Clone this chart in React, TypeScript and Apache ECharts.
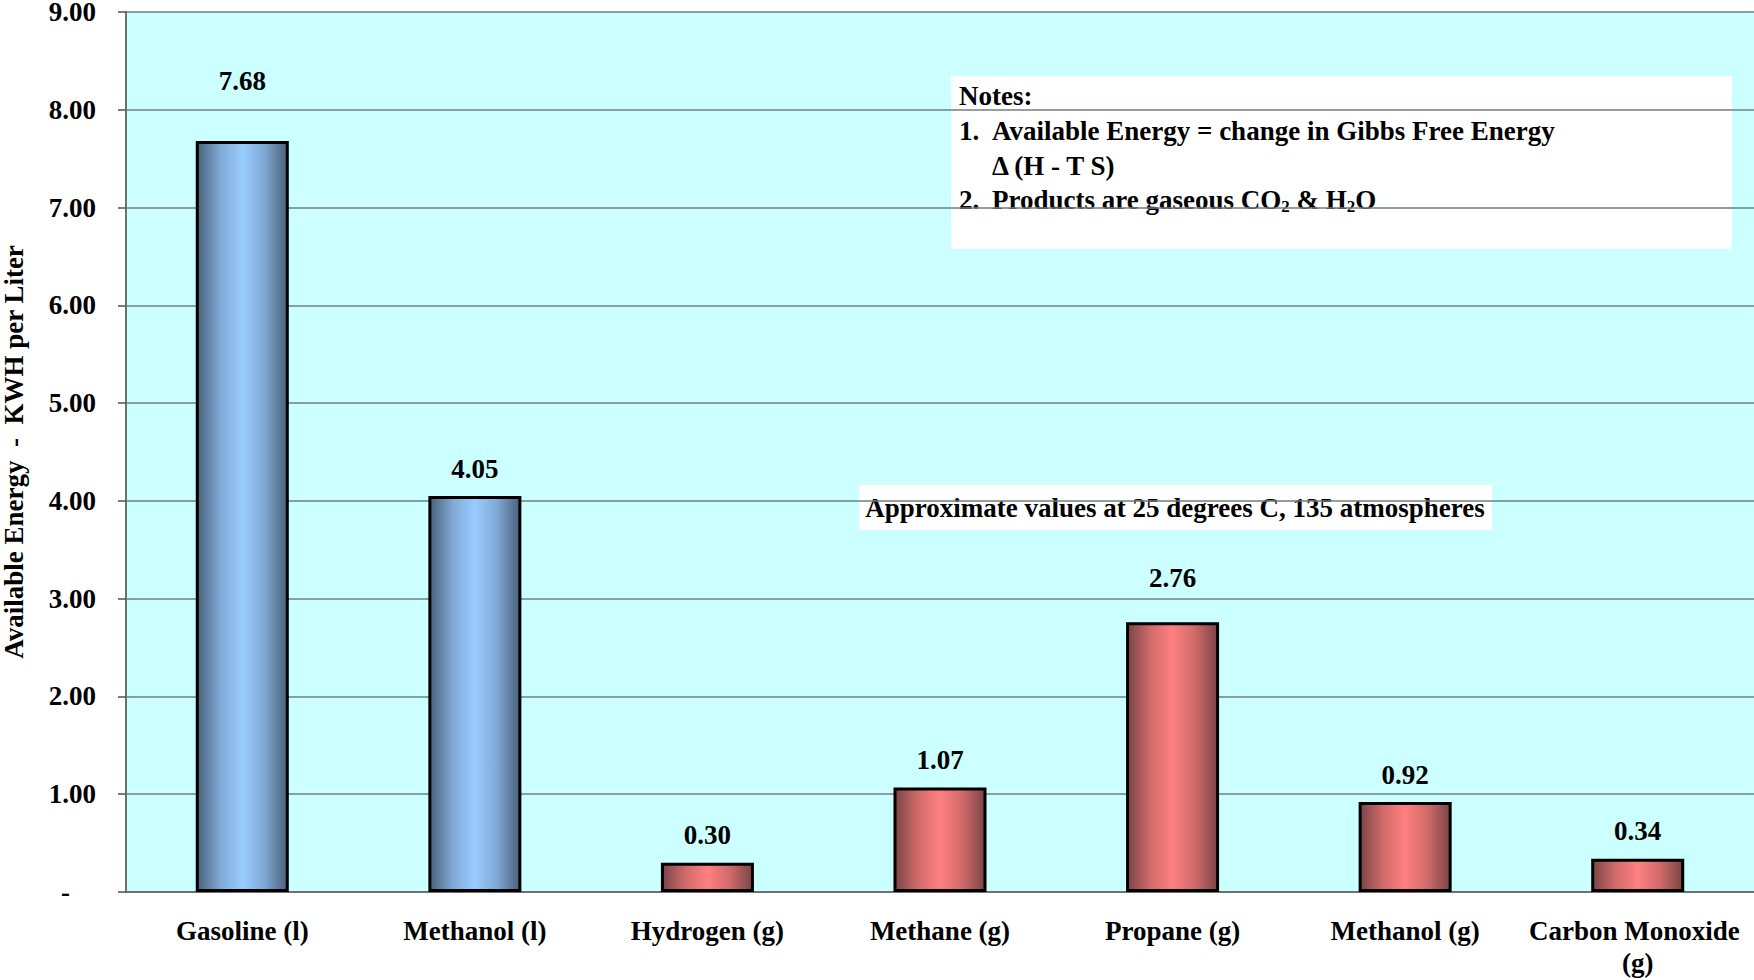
import { useEffect, useRef } from "react";
import * as echarts from "echarts";

// Available energy per litre of fuel (KWH)
const fuels = [
  "Gasoline (l)",
  "Methanol (l)",
  "Hydrogen (g)",
  "Methane (g)",
  "Propane (g)",
  "Methanol (g)",
  "Carbon Monoxide (g)",
];
const energyKwhPerLiter = [7.68, 4.05, 0.3, 1.07, 2.76, 0.92, 0.34];
const phase = ["liquid", "liquid", "gas", "gas", "gas", "gas", "gas"];

const yMin = 0;
const yMax = 9;
const yStep = 1;

const yAxisTitle = "Available Energy  -  KWH per Liter";
const conditionsNote = "Approximate values at 25 degrees C, 135 atmospheres";
const notesTitle = "Notes:";
const note1 = "Available Energy = change in Gibbs Free Energy";
const note1b = "\u0394 (H - T S)";

const FONT = '"Liberation Serif", "Times New Roman", serif';
const FS = 27;

const liquidFill = new echarts.graphic.LinearGradient(0, 0, 1, 0, [
  { offset: 0, color: "#4a6079" },
  { offset: 0.25, color: "#7fa8d4" },
  { offset: 0.5, color: "#99ccff" },
  { offset: 0.75, color: "#7fa8d4" },
  { offset: 1, color: "#4a6079" },
]);
const gasFill = new echarts.graphic.LinearGradient(0, 0, 1, 0, [
  { offset: 0, color: "#7a4545" },
  { offset: 0.25, color: "#d06a6a" },
  { offset: 0.5, color: "#ff8080" },
  { offset: 0.75, color: "#d06a6a" },
  { offset: 1, color: "#7a4545" },
]);

export default function App() {
  const ref = useRef<HTMLDivElement>(null);

  useEffect(() => {
    if (!ref.current) return;
    const chart = echarts.init(ref.current, undefined, { renderer: "svg" });

    const textBase = { fontFamily: FONT, fontWeight: "bold", fontSize: FS, fill: "#000" };

    chart.setOption({
      animation: false,
      backgroundColor: "#ffffff",
      grid: {
        left: 126,
        right: 0,
        top: 12,
        bottom: 88,
        outerBoundsMode: "none",
        containLabel: false,
        show: true,
        backgroundColor: "#ccffff",
        borderWidth: 0,
      },
      xAxis: {
        type: "category",
        data: fuels,
        axisLine: { lineStyle: { color: "#707070", width: 2 } },
        axisTick: { length: 9, lineStyle: { color: "#505050", width: 1.5 } },
        axisLabel: {
          interval: 0,
          margin: 23,
          width: 228,
          overflow: "break",
          lineHeight: 32,
          fontFamily: FONT,
          fontWeight: "bold",
          fontSize: FS,
          color: "#000",
        },
      },
      yAxis: {
        type: "value",
        min: yMin,
        max: yMax,
        interval: yStep,
        name: yAxisTitle,
        nameLocation: "middle",
        nameGap: 99,
        nameTextStyle: {
          fontFamily: FONT,
          fontWeight: "bold",
          fontSize: FS,
          color: "#000",
        },
        axisLine: { show: true, lineStyle: { color: "#707070", width: 2 } },
        axisTick: { show: true, length: 8, lineStyle: { color: "#505050", width: 1.5 } },
        splitLine: { lineStyle: { color: "#6f7f7f", width: 1.5 } },
        axisLabel: {
          margin: 30,
          lineHeight: 22,
          fontFamily: FONT,
          fontWeight: "bold",
          fontSize: FS,
          color: "#000",
          formatter: (v: number) => (v === 0 ? "{z|-}" : v.toFixed(2)),
          rich: {
            z: {
              fontFamily: FONT,
              fontWeight: "bold",
              fontSize: FS,
              lineHeight: 22,
              color: "#000",
              padding: [0, 26, 0, 0],
            },
          },
        },
      },
      series: [
        {
          type: "bar",
          barWidth: "40%",
          data: energyKwhPerLiter.map((v, i) => ({
            value: v,
            itemStyle: {
              color: phase[i] === "liquid" ? liquidFill : gasFill,
              borderColor: "#000",
              borderWidth: 3,
            },
            label:
              i === 0
                ? { offset: [0, -33] }
                : i === 4
                ? { offset: [0, -17] }
                : {},
          })),
          label: {
            show: true,
            position: "top",
            distance: 14,
            fontFamily: FONT,
            fontWeight: "bold",
            fontSize: FS,
            color: "#000",
            formatter: (p: any) => Number(p.value).toFixed(2),
          },
        },
      ],
      graphic: [
        {
          type: "group",
          left: 951,
          top: 76,
          children: [
            {
              type: "rect",
              shape: { x: 0, y: 0, width: 781, height: 173 },
              style: { fill: "#ffffff" },
            },
            {
              type: "text",
              x: 8,
              y: 20,
              style: { ...textBase, text: notesTitle, verticalAlign: "middle" },
            },
            {
              type: "text",
              x: 8,
              y: 55,
              style: { ...textBase, text: "1.", verticalAlign: "middle" },
            },
            {
              type: "text",
              x: 41,
              y: 55,
              style: { ...textBase, text: note1, verticalAlign: "middle" },
            },
            {
              type: "text",
              x: 41,
              y: 90,
              style: { ...textBase, text: note1b, verticalAlign: "middle" },
            },
            {
              type: "text",
              x: 8,
              y: 124,
              style: { ...textBase, text: "2.", verticalAlign: "middle" },
            },
            {
              type: "text",
              x: 41,
              y: 124,
              style: {
                ...textBase,
                verticalAlign: "middle",
                text: "Products are gaseous CO{sub|2} & H{sub|2}O",
                lineHeight: 30,
                rich: {
                  sub: {
                    fontFamily: FONT,
                    fontWeight: "bold",
                    fontSize: 17,
                    lineHeight: 8,
                    verticalAlign: "bottom",
                    fill: "#000",
                  },
                },
              },
            },
          ],
        },
        {
          type: "group",
          left: 859,
          top: 485,
          children: [
            {
              type: "rect",
              shape: { x: 0, y: 0, width: 633, height: 45 },
              style: { fill: "#ffffff" },
            },
            {
              type: "text",
              x: 316,
              y: 23,
              style: {
                ...textBase,
                text: conditionsNote,
                align: "center",
                verticalAlign: "middle",
              },
            },
          ],
        },
      ],
    });

    return () => chart.dispose();
  }, []);

  return (
    <div
      ref={ref}
      style={{ position: "fixed", left: 0, top: 0, width: 1754, height: 980 }}
    />
  );
}
